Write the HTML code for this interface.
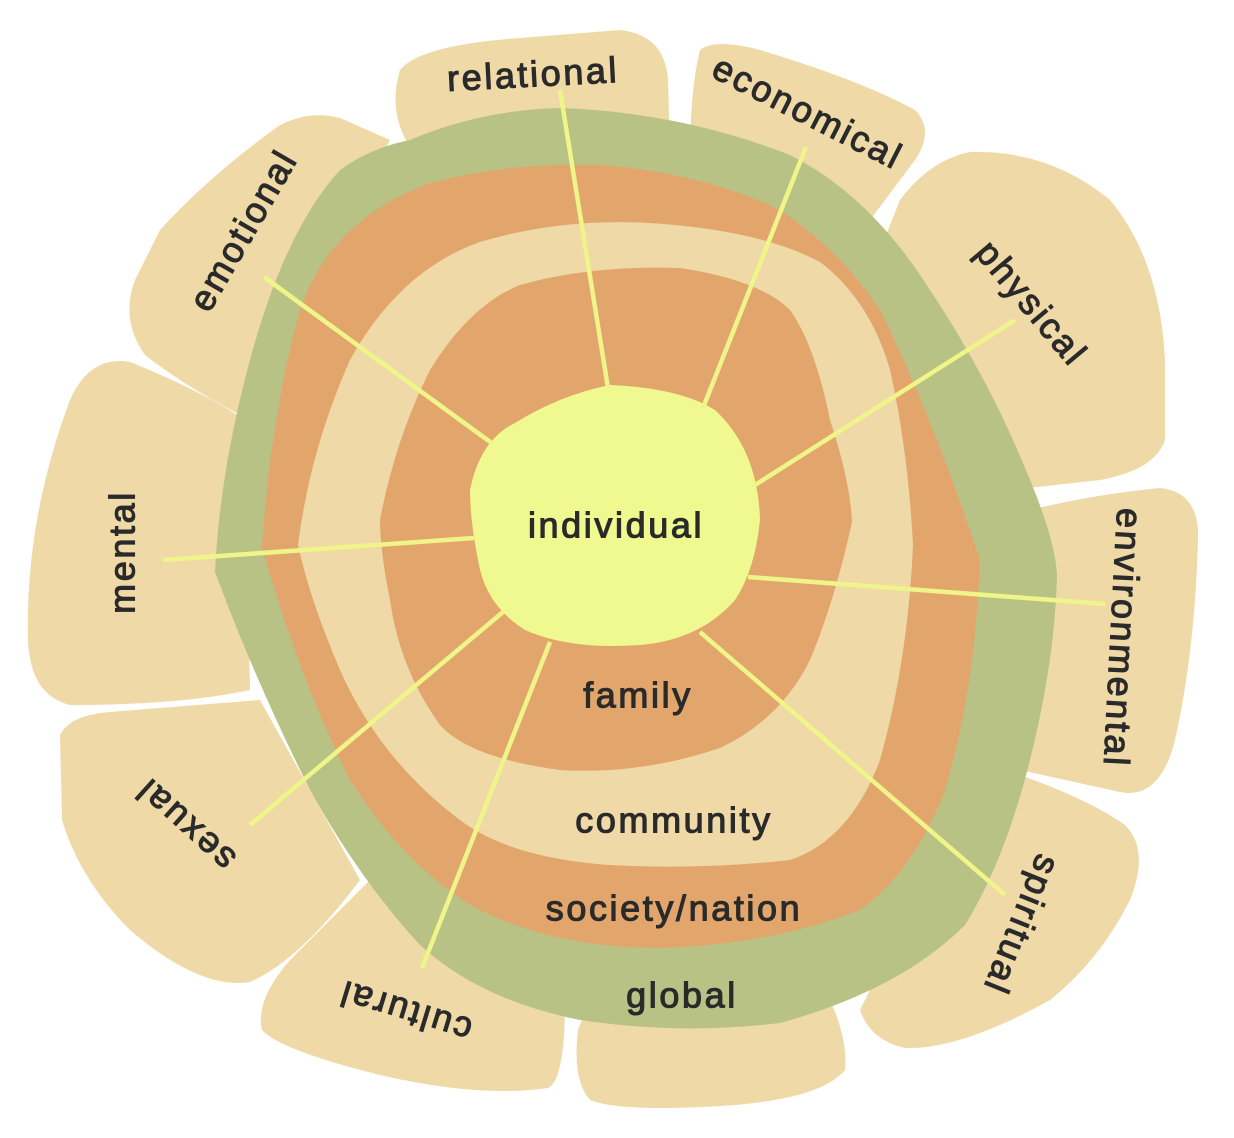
<!DOCTYPE html>
<html><head><meta charset="utf-8"><style>
html,body{margin:0;padding:0;background:#fff}
svg{display:block}
text{font-family:"Liberation Sans",sans-serif;fill:#2a2a2a;font-size:36px;stroke:#2a2a2a;stroke-width:1.1;letter-spacing:2.6px}
</style></head><body>
<svg width="1234" height="1138" viewBox="0 0 1234 1138" xmlns="http://www.w3.org/2000/svg">
<g fill="#EED9A7">
<path d="M400,70 Q420,45 520,38 L620,30 Q665,35 668,80 L670,150 L420,160 Q385,120 400,70Z"/>
<path d="M700,50 Q715,38 760,50 Q860,80 915,110 Q935,130 915,160 L870,220 L690,160 Q690,90 700,50Z"/>
<path d="M900,200 Q930,160 970,152 Q1050,150 1110,200 Q1160,260 1165,360 L1165,440 Q1155,470 1100,480 L1010,490 L880,250Z"/>
<path d="M1030,510 Q1090,495 1160,488 Q1200,492 1198,540 Q1195,650 1175,740 Q1160,800 1120,792 L1020,770 L1020,520Z"/>
<path d="M1020,775 Q1090,800 1125,825 Q1150,850 1130,900 Q1100,960 1050,1000 Q960,1050 905,1048 Q870,1040 860,1010 L940,850Z"/>
<path d="M590,1000 L830,1000 Q848,1040 845,1070 Q820,1100 720,1106 Q620,1112 590,1100 Q572,1080 578,1030Z"/>
<path d="M370,880 L565,1000 Q565,1080 548,1088 Q480,1098 380,1075 Q280,1050 262,1030 Q255,1000 290,960 Z"/>
<path d="M60,735 Q70,715 110,712 L260,700 L360,880 Q300,960 250,982 Q200,990 130,930 Q80,880 62,820Z"/>
<path d="M70,400 Q90,355 130,362 Q200,390 245,420 L250,690 Q180,705 70,705 Q30,695 28,640 Q25,520 70,400Z"/>
<path d="M160,230 Q210,175 280,125 Q310,110 340,118 L390,140 L250,420 Q190,390 145,355 Q120,320 135,280Z"/>
</g>
<path fill="#B8C285" d="M410,140 Q480,110 560,108 Q680,112 790,155 Q870,195 930,290 Q990,380 1030,480 Q1055,540 1057,575 Q1055,660 1030,760 Q1005,860 965,925 Q900,990 780,1023 Q680,1035 580,1020 Q480,1000 420,945 Q360,880 310,790 Q255,680 215,572 Q220,470 250,360 Q285,230 340,170 Q370,148 410,140Z"/>
<path fill="#E2A66C" d="M430,183 Q510,162 600,165 Q700,172 780,210 Q840,250 880,310 Q930,410 980,560 Q975,690 945,790 Q915,870 860,910 Q770,945 660,948 Q550,948 470,905 Q400,860 350,780 Q300,680 262,548 Q270,420 300,310 Q330,220 430,183Z"/>
<path fill="#EED9A7" d="M480,242 Q560,218 650,223 Q760,230 820,262 Q870,300 890,370 Q908,450 913,545 Q908,660 880,760 Q850,840 790,860 Q700,870 610,865 Q510,858 460,820 Q380,760 340,670 Q310,600 298,545 Q310,450 350,360 Q400,270 480,242Z"/>
<path fill="#E2A66C" d="M520,285 Q590,265 680,268 Q760,280 790,310 Q815,345 830,420 Q850,480 852,522 Q835,600 810,660 Q780,720 720,748 Q640,775 560,770 Q470,758 440,725 Q400,670 390,600 Q380,550 380,520 Q395,440 430,370 Q470,305 520,285Z"/>
<path fill="#F0F98F" d="M515,423 Q560,395 610,385 Q680,388 715,410 Q758,450 760,520 Q755,570 735,600 Q700,640 640,645 Q570,650 525,630 Q485,605 478,560 Q470,520 470,490 Q480,440 515,423Z"/>
<g stroke="#F0F58A" stroke-width="4.5" fill="none">
<line x1="608" y1="388" x2="560" y2="90"/>
<line x1="703" y1="408" x2="806" y2="147"/>
<line x1="755" y1="485" x2="1015" y2="320"/>
<line x1="748" y1="577" x2="1105" y2="604"/>
<line x1="700" y1="632" x2="1005" y2="895"/>
<line x1="550" y1="642" x2="422" y2="968"/>
<line x1="503" y1="612" x2="250" y2="825"/>
<line x1="474" y1="538" x2="163" y2="560"/>
<line x1="493" y1="444" x2="264" y2="277"/>
</g>
<g text-anchor="middle" dominant-baseline="central">
<text x="616" y="525">individual</text>
<text x="638" y="695">family</text>
<text x="674" y="820">community</text>
<text x="674" y="908">society/nation</text>
<text x="682" y="995">global</text>
<text transform="translate(533,74) rotate(-3)">relational</text>
<text transform="translate(808,112) rotate(27)">economical</text>
<text transform="translate(1032,303) rotate(50)">physical</text>
<text transform="translate(1123,638) rotate(93)">environmental</text>
<text transform="translate(1022,925) rotate(112)">spiritual</text>
<text transform="translate(405,1012) rotate(197)">cultural</text>
<text transform="translate(185,825) rotate(222)">sexual</text>
<text transform="translate(122,552) rotate(-90)">mental</text>
<text transform="translate(243,230) rotate(-60)">emotional</text>
</g>
</svg>
</body></html>
